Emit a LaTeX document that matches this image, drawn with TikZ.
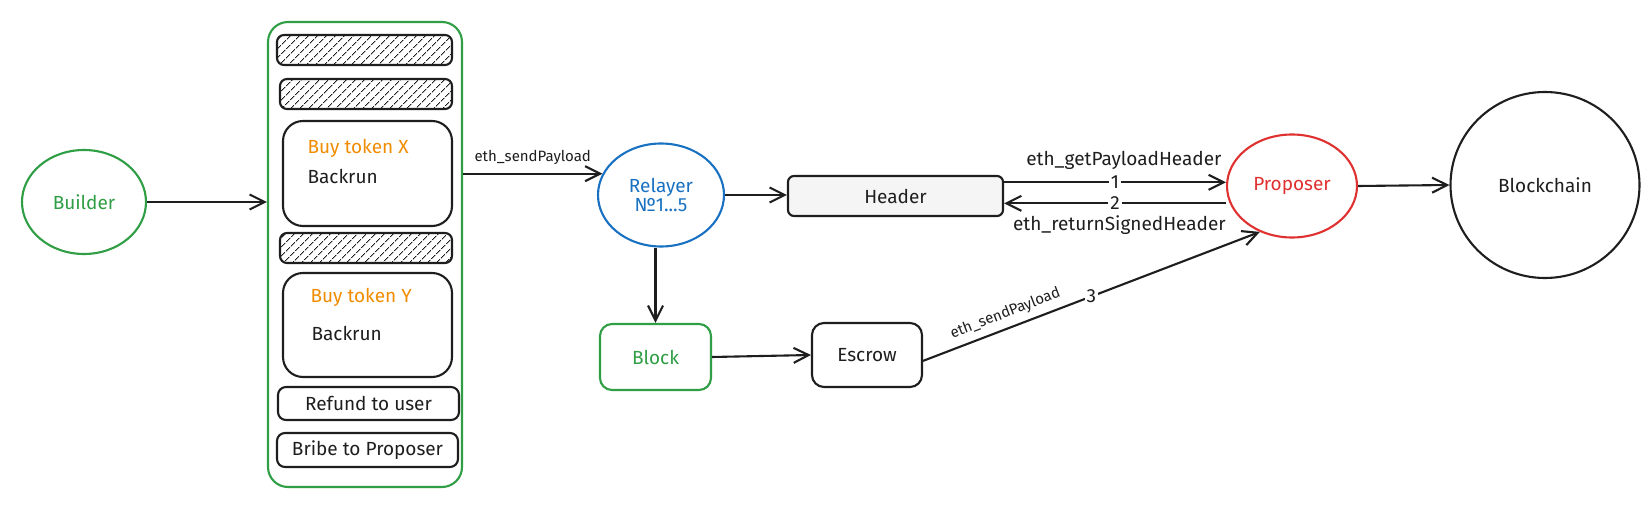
\documentclass[tikz,border=0pt]{standalone}
\usepackage{fontspec}
\setmainfont{Fira Sans}
\usetikzlibrary{shapes.geometric,arrows.meta,patterns.meta,calc}
\definecolor{ink}{HTML}{1E1E1E}
\definecolor{exgreen}{HTML}{2F9E44}
\definecolor{exblue}{HTML}{1971C2}
\definecolor{exred}{HTML}{E03131}
\definecolor{exorange}{HTML}{F08C00}
\tikzset{
  every node/.style={font=\fontsize{19}{22}\selectfont, text=ink},
  smalltxt/.style={font=\fontsize{15}{17}\selectfont},
  shp/.style={draw=ink, line width=2.1pt},
  ell/.style={shp, ellipse, inner sep=0pt},
  rbox/.style={shp, rectangle, rounded corners=#1, inner sep=0pt},
  rbox/.default=8pt,
  hatch/.style={rbox=7pt, pattern={Lines[angle=45,distance=6.5pt,line width=1.1pt]}, pattern color=ink},
  arr/.style={draw=ink, line width=2.1pt, -{Straight Barb[length=15pt,width=15pt,line width=2.1pt]}},
  numlbl/.style={fill=white, inner sep=2pt},
}
\begin{document}
\begin{tikzpicture}[x=1pt,y=-1pt]
\fill[white] (0,0) rectangle (1651,505);
\useasboundingbox (0,0) rectangle (1651,505);

% Builder
\node[ell, draw=exgreen, minimum width=124pt, minimum height=104pt, text=exgreen] (builder) at (84,202) {Builder};

% Container
\node[rbox=20pt, draw=exgreen, minimum width=194pt, minimum height=465pt] (cont) at (365,254.5) {};
\node[hatch, minimum width=175pt, minimum height=30pt] (h1) at (364.5,50) {};
\node[hatch, minimum width=172pt, minimum height=30pt] (h2) at (366,94) {};
\node[rbox=20pt, minimum width=169pt, minimum height=105pt] (bx) at (367.5,173.5) {};
\node[anchor=west, text=exorange] (bxa) at (304,148) {Buy token X};
\node[anchor=west] (bxb) at (304,176) {Backrun};
\node[hatch, minimum width=172pt, minimum height=30pt] (h3) at (366,248) {};
\node[rbox=20pt, minimum width=169pt, minimum height=104pt] (by) at (367.5,325) {};
\node[anchor=west, text=exorange] (bya) at (307,297) {Buy token Y};
\node[anchor=west] (byb) at (308,333) {Backrun};
\node[rbox=8pt, minimum width=181pt, minimum height=33pt] (refund) at (368.5,403.5) {Refund to user};
\node[rbox=8pt, minimum width=181pt, minimum height=34pt] (bribe) at (367.5,450) {Bribe to Proposer};

% Relayer
\node[ell, draw=exblue, minimum width=126pt, minimum height=103pt, text=exblue, align=center] (relayer) at (661,195) {Relayer\\[-3pt]№1...5};

% Header
\node[rbox=6pt, fill=black!4, minimum width=215pt, minimum height=40pt] (header) at (895.5,196) {Header};

% Block
\node[rbox=12pt, draw=exgreen, minimum width=111pt, minimum height=66pt, text=exgreen] (block) at (655.5,357) {Block};

% Escrow
\node[rbox=12pt, minimum width=110pt, minimum height=64pt] (escrow) at (867,355) {Escrow};

% Proposer
\node[ell, draw=exred, minimum width=130pt, minimum height=103pt, text=exred] (proposer) at (1292,186) {Proposer};

% Blockchain
\node[ell, minimum width=189pt, minimum height=186pt] (chain) at (1545,185) {Blockchain};

% Connectors
\draw[arr] (builder.east) -- (builder.east -| cont.west);
\draw[arr] (cont.east |- relayer.160) -- node[above=5pt, smalltxt] {eth\_sendPayload} (relayer.160);
\draw[arr] (relayer.east) -- (relayer.east -| header.west);
\draw[arr] (block.north |- relayer.south) -- (block.north);
\draw[arr] (block.east) -- (escrow.west);

\coordinate (hA) at ($(header.north east)!0.175!(header.south east)$);
\coordinate (hB) at ($(header.north east)!0.675!(header.south east)$);
\draw[arr] (hA) -- node[pos=0.5, numlbl] {1} node[pos=0.54, above=8pt] {eth\_getPayloadHeader} (hA -| proposer.west);
\draw[arr] (hB -| proposer.west) -- node[pos=0.5, numlbl] {2} node[pos=0.48, below=8pt] {eth\_returnSignedHeader} (hB);

\draw[arr] (escrow.-6) -- node[pos=0.5, numlbl] {3} node[pos=0.26, sloped, above=3pt, smalltxt] {eth\_sendPayload} (proposer.235);
\draw[arr] (proposer.east) -- (chain.west);
\end{tikzpicture}
\end{document}
